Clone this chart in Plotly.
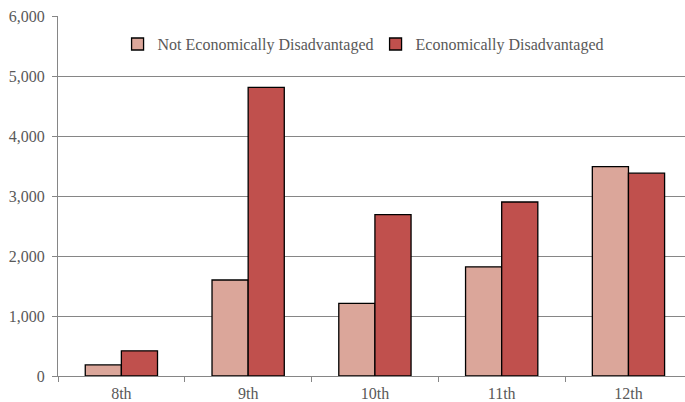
import plotly.graph_objects as go

grades = ["8th", "9th", "10th", "11th", "12th"]
not_econ = [185, 1600, 1210, 1820, 3490]
econ = [420, 4810, 2690, 2900, 3380]
y_ticks = [0, 1000, 2000, 3000, 4000, 5000, 6000]
y_tick_labels = ["0", "1,000", "2,000", "3,000", "4,000", "5,000", "6,000"]

fig = go.Figure()
fig.add_trace(go.Bar(x=grades, y=not_econ, name="Not Economically Disadvantaged",
                     marker=dict(color="#DBA69A", line=dict(color="#000000", width=1.3))))
fig.add_trace(go.Bar(x=grades, y=econ, name="Economically Disadvantaged",
                     marker=dict(color="#C0504D", line=dict(color="#000000", width=1.3))))

fig.update_layout(
    width=685, height=402,
    margin=dict(l=58, r=0, t=16, b=26, autoexpand=False),
    plot_bgcolor="white", paper_bgcolor="white",
    barmode="group", bargap=0.43, bargroupgap=0,
    font=dict(family="Liberation Serif", size=16, color="#595959"),
    showlegend=True,
    legend=dict(orientation="h", x=0.095, y=0.922, xanchor="left", yanchor="middle",
                font=dict(family="Liberation Serif", size=16, color="#595959"),
                itemwidth=30, entrywidth=213, bgcolor="rgba(0,0,0,0)"),
    xaxis=dict(range=[-0.5, 4.446], showline=True, linecolor="#868686", linewidth=1,
               ticks="outside", ticklen=5, tickcolor="#868686", tickson="boundaries",
               ticklabelstandoff=3,
               showgrid=False, automargin=False, zeroline=False),
    yaxis=dict(range=[0, 6000], tickvals=y_ticks, ticktext=y_tick_labels,
               showline=True, linecolor="#868686", linewidth=1,
               ticks="outside", ticklen=5, tickcolor="#868686",
               ticklabelstandoff=4,
               showgrid=True, gridcolor="#868686", gridwidth=1,
               zeroline=False, automargin=False),
)

fig.write_html("out.html", config={"displayModeBar": False},
               post_script="document.body.style.margin='0';document.body.style.overflow='hidden';")
